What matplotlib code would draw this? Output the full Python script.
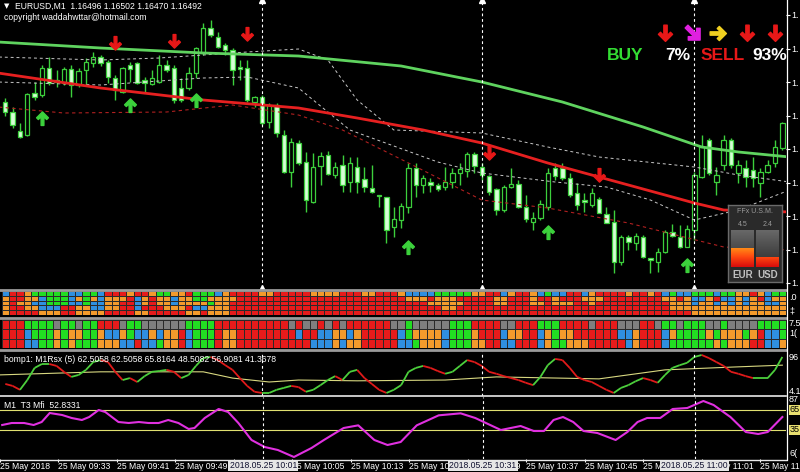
import numpy as np
import matplotlib
matplotlib.use("Agg")
import matplotlib.pyplot as plt
import matplotlib.transforms as mtransforms
from matplotlib.path import Path
from matplotlib.lines import Line2D
from matplotlib.collections import LineCollection
from matplotlib.colors import ListedColormap, LinearSegmentedColormap

plt.rcParams["font.family"] = ["Liberation Sans", "DejaVu Sans"]

W, H = 800, 472

# ---------------------------------------------------------------------------
# Data (prices in points above 1.16000, i.e. 598 -> 1.16598)
# ---------------------------------------------------------------------------
opens = [598, 588, 569, 565, 607, 605, 632, 620, 617, 631, 615, 630, 637, 643, 638, 622, 608, 635, 637, 620,
         616, 618, 635, 632, 612, 612, 627, 647, 672, 663, 655, 650, 633, 632, 598, 603, 578, 595, 565, 528,
         557, 538, 498, 534, 545, 525, 535, 518, 533, 521, 512, 505, 503, 473, 480, 493, 532, 515, 518, 515,
         513, 518, 527, 529, 546, 533, 524, 511, 490, 513, 516, 493, 478, 482, 493, 532, 532, 522, 507, 500,
         495, 501, 486, 478, 438, 463, 457, 463, 442, 438, 448, 468, 463, 453, 470, 523, 560, 518, 535, 560,
         527, 532, 530, 517, 528, 537, 552]
highs = [602, 593, 577, 607, 618, 635, 643, 630, 633, 635, 632, 642, 648, 645, 640, 625, 633, 638, 638, 623,
         630, 645, 640, 635, 622, 633, 653, 677, 680, 668, 657, 652, 640, 640, 604, 605, 597, 597, 570, 562,
         560, 548, 547, 548, 549, 538, 545, 543, 543, 533, 535, 505, 503, 493, 497, 537, 537, 525, 522, 517,
         533, 532, 537, 548, 548, 537, 525, 512, 515, 532, 520, 505, 488, 500, 532, 537, 537, 527, 517, 507,
         512, 503, 493, 490, 465, 465, 467, 465, 442, 452, 470, 476, 475, 475, 528, 565, 562, 533, 565, 562,
         540, 540, 543, 532, 540, 560, 578]
lows = [584, 572, 562, 564, 600, 603, 615, 613, 615, 603, 613, 615, 633, 634, 617, 600, 607, 618, 616, 608,
        615, 617, 628, 597, 598, 610, 622, 645, 663, 652, 645, 615, 620, 598, 593, 575, 572, 563, 527, 513,
        535, 488, 497, 515, 525, 522, 508, 508, 507, 508, 507, 493, 457, 463, 472, 487, 503, 507, 508, 509,
        510, 512, 515, 523, 527, 520, 505, 485, 488, 512, 492, 478, 470, 480, 490, 520, 520, 503, 490, 488,
        493, 487, 477, 427, 435, 450, 450, 442, 427, 428, 447, 463, 452, 453, 460, 522, 525, 505, 530, 532,
        517, 513, 513, 503, 527, 533, 550]
closes = [588, 575, 563, 606, 603, 632, 617, 618, 631, 615, 629, 638, 643, 637, 623, 610, 632, 631, 617, 617,
          622, 635, 630, 600, 600, 627, 652, 672, 665, 653, 650, 630, 631, 600, 603, 577, 595, 567, 528, 558,
          537, 500, 533, 544, 526, 533, 515, 537, 518, 513, 508, 504, 470, 481, 494, 532, 515, 522, 515, 511,
          518, 527, 531, 546, 534, 525, 508, 490, 513, 516, 493, 481, 482, 496, 527, 524, 522, 505, 495, 498,
          507, 487, 477, 438, 463, 458, 464, 443, 440, 448, 468, 464, 453, 471, 525, 553, 527, 525, 560, 535,
          535, 523, 522, 528, 535, 553, 577]

# moving averages / envelopes (bar index, price points)
ma_slow_bar = [-1, 13, 27, 40, 54, 65, 76, 87, 95, 100, 107]
ma_slow_val = [658, 652, 647, 644, 634, 618, 598, 573, 553, 548, 543]
ma_fast_bar = [-1, 13, 27, 40, 48, 57, 65, 74, 81, 94, 98, 107]
ma_fast_val = [627, 612, 600, 592, 582, 570, 557, 537, 523, 497, 490, 488]
band_up_bar = [-1, 13, 21, 33, 40, 44, 48, 53, 65, 74, 81, 94, 100, 107]
band_up_val = [643, 640, 642, 648, 651, 640, 600, 570, 567, 553, 543, 533, 525, 518]
band_mid_bar = [-1, 13, 27, 33, 40, 47, 59, 65, 75, 82, 88, 94, 100, 107]
band_mid_val = [618, 615, 622, 623, 612, 570, 538, 527, 518, 513, 500, 480, 490, 510]
band_lo_bar = [-1, 8, 22, 31, 40, 46, 55, 65, 74, 85, 98, 107]
band_lo_val = [593, 587, 588, 595, 585, 570, 537, 500, 492, 477, 453, 450]

sell_bars = [15, 23, 33, 66, 81]
sell_vals = [657, 659, 666, 547, 525]
buy_bars = [5, 17, 26, 55, 74, 93]
buy_vals = [582, 595, 600, 453, 468, 435]

price_ticks = [685, 651.5, 618, 584.5, 551, 517.5, 484, 450.5, 417]
marker_bars = [35, 65, 94]
marker_labels = ["2018.05.25 10:01", "2018.05.25 10:31", "2018.05.25 11:00"]

# heat map strips: r red, o orange, b blue, g green, a gray
heat_top = [
    "brrogggggb" "bggbrrrorr" "oggoorgggb" "orrrroorrr" "rroooorrro" "orrrobbbbg" "ggggoorrbo" "rrobgbbrrb" "orrrrorror" "bgbbgggbgg" "oorobgg",
    "orroobgggb" "ogobooorbo" "roobooggoo" "oorrrrrrrr" "rrrrrrrrrr" "rrrrroooro" "oorrrrroor" "rrorrorrro" "oorrrrrrrr" "oorobborbb" "oborboo",
    "oroobbgggb" "bgbboorrbo" "rooboooogo" "orrrrrrrrr" "rrrrrrrrrr" "rrrrrrrroo" "ooorrrroor" "rroorooorr" "orrrrrrrrr" "roooboobob" "oboobbo",
    "orroobbbrr" "oobboorrbr" "rrooorbboo" "orrrrrrrrr" "rrrrrrrrrr" "rrrrrrrrrr" "oorrrrrrrr" "rrrrrrrrrr" "rrrrrrrrrr" "rooooooooo" "ooooooo",
    "orrrrooorr" "oooorrrroo" "rrrrrooroo" "orrrrrrrrr" "rrrrrrrrrr" "rrrrrrrrrr" "rrrrrrrrrr" "rrrrrrrrrr" "rrrrrrrrrr" "rrrroooooo" "ooooooo",
]
heat_bottom = [
    "rrrggggagg" "aggrrragga" "aaaaaggggr" "rrrrrrrrra" "raarararrr" "rrraagaaaa" "agggrrrraa" "rrrgggrrrr" "arrraaarra" "ggagggaaga" "aaagggg",
    "rrrbgggogo" "oggobbogbb" "oboorbgggr" "oorrrrrrrr" "brrbboobor" "rrrrbgoooo" "bgggorrrbo" "orrbogoorr" "rrrrbborrr" "boggggogoo" "ogorbbg",
    "rrrbbggogo" "gggooobbrb" "bgoorbgggr" "oorrrrrrrr" "rrbbboboor" "rrrrbbgooo" "bgggoorrbb" "rrrboggooo" "rrrrrborrr" "bggggggogo" "oorrbbo",
]

rsx = [22, 17, 7, 32, 63, 73, 73, 68, 53, 40, 45, 58, 78, 83, 78, 53, 32, 37, 27, 42,
       53, 55, 58, 53, 37, 45, 68, 88, 91, 83, 70, 58, 37, 17, 2, -1, -1, 7, 12, 17,
       14, 2, 7, 19, 32, 42, 32, 53, 58, 37, 22, 7, -1, 7, 19, 53, 63, 68, 63, 55,
       48, 53, 68, 83, 78, 68, 53, 48, 42, 37, 32, 25, 19, 40, 70, 86, 83, 63, 40, 32,
       27, 17, 7, -1, 12, 19, 29, 37, 32, 25, 45, 63, 70, 76, 91, 96, 88, 78, 68, 53,
       48, 42, 37, 37, 37, 58, 91]
rsx_sig_bar = [-1, 13, 27, 31, 36, 40, 48, 60, 67, 81, 90, 99, 106]
rsx_sig_val = [45, 53, 53, 37, 27, 32, 30, 32, 40, 35, 58, 65, 70]

mfi_bar = [-0.7, 0.6, 2.3, 3.6, 4.7, 5.8, 7.5, 8.8, 10.2, 11.2, 12.5, 13.4, 15.2, 16.6, 18, 19.3, 20.7, 22,
           23.4, 24.8, 25.6, 27, 28.9, 30.2, 31.6, 33.4, 35.2, 37, 39.2, 41.6, 43.3, 46, 48, 50.2, 52, 53.8,
           56, 59, 62, 64, 67.5, 70.2, 72, 73.4, 74.7, 76, 77.4, 78.8, 80.7, 83.2, 84.8, 86.2, 87.5, 89.3,
           91, 93, 95.2, 96.6, 98.9, 101, 102.7, 104, 106]
mfi_val = [42.5, 45.5, 45.5, 42.5, 47, 60.5, 57.5, 53, 50, 54.5, 65, 62, 47, 45.5, 47, 45.5, 45.5, 50,
           45.5, 36.5, 38, 53, 66.5, 62, 45.5, 20, 9.5, 5, -5.5, 8, 20, 38, 42, 20, 12.5, 17,
           42, 57, 60, 53, 35, 41, 33.5, 33.5, 50, 54.5, 47, 33.5, 30.5, 20, 32, 47, 53, 53,
           66.5, 68, 78.5, 72.5, 54.5, 32, 29, 32, 54.5]

time_bars = [-1, 7, 15, 23, 31, 39, 47, 55, 63, 71, 79, 87, 95, 103]
time_labels = ["25 May 2018", "25 May 09:33", "25 May 09:41", "25 May 09:49", "25 May 09:57",
               "25 May 10:05", "25 May 10:13", "25 May 10:21", "25 May 10:29", "25 May 10:37",
               "25 May 10:45", "25 May 10:53", "25 May 11:01", "25 May 11:09"]

ffx_names = ["EUR", "USD"]
ffx_vals = [4.5, 2.4]

# ---------------------------------------------------------------------------
# Style
# ---------------------------------------------------------------------------
WICK = "#3ccf3c"
BODY = "#d6ffd6"
HEAT = {"r": "#e61b1b", "o": "#f39a2c", "b": "#2f8fe0", "g": "#22dd22", "a": "#7f7f7f"}
XMIN, XMAX = -0.723, 106.5
FS = 6.2


def panel(top, bottom, left=0, right=786):
    a = fig.add_axes([left / W, 1 - bottom / H, (right - left) / W, (bottom - top) / H])
    a.set_facecolor("black")
    for s in a.spines.values():
        s.set_visible(False)
    a.set_xlim(XMIN, XMAX)
    a.set_xticks([])
    a.set_yticks([])
    return a


def ftext(x, y, s, **kw):
    kw.setdefault("color", "white")
    kw.setdefault("fontsize", FS)
    kw.setdefault("va", "center")
    return fig.text(x / W, 1 - y / H, s, **kw)


def hline(y, x0, x1, color, lw):
    fig.add_artist(Line2D([x0 / W, x1 / W], [1 - y / H, 1 - y / H], color=color, lw=lw,
                          transform=fig.transFigure))


def arrow_path(angle):
    v = np.array([(-0.2, 1), (0.2, 1), (0.2, -0.25), (0.6, 0.15), (0.85, -0.1), (0, -0.95),
                  (-0.85, -0.1), (-0.6, 0.15), (-0.2, -0.25), (-0.2, 1)])
    t = np.deg2rad(angle)
    r = np.array([[np.cos(t), -np.sin(t)], [np.sin(t), np.cos(t)]])
    v = v @ r.T
    return Path(v, closed=True)


ARROW_DOWN = arrow_path(0)
ARROW_UP = arrow_path(180)
ARROW_RIGHT = arrow_path(90)
ARROW_DIAG = arrow_path(45)

fig = plt.figure(figsize=(W / 100, H / 100), dpi=100, facecolor="black")

# ---------------------------------------------------------------------------
# Main price panel
# ---------------------------------------------------------------------------
ax = panel(0, 288)
ax.set_ylim(412, 700)
idx = np.arange(len(opens))
o, hi, lo, c = (np.array(a, dtype=float) for a in (opens, highs, lows, closes))
bull = c >= o
ax.vlines(idx, lo, hi, color=WICK, lw=1, zorder=2)
ax.bar(idx[bull], (c - o)[bull], bottom=o[bull], width=0.6, facecolor="black",
       edgecolor=WICK, lw=0.9, zorder=3)
ax.bar(idx[~bull], (o - c)[~bull], bottom=c[~bull], width=0.6, facecolor=BODY,
       edgecolor=WICK, lw=0.9, zorder=3)

ax.plot(band_up_bar, band_up_val, color="#c8c8c8", lw=0.7, ls=(0, (3, 3)), zorder=4)
ax.plot(band_mid_bar, band_mid_val, color="#c8c8c8", lw=0.7, ls=(0, (3, 3)), zorder=4)
ax.plot(band_lo_bar, band_lo_val, color="#b02020", lw=0.8, ls=(0, (3, 3)), zorder=4)
ax.plot(ma_slow_bar, ma_slow_val, color="#5fd35f", lw=2.0, zorder=5)
ax.plot(ma_fast_bar, ma_fast_val, color="#e62020", lw=2.0, zorder=5)

ax.plot(sell_bars, sell_vals, ls="none", marker=ARROW_DOWN, ms=10, color="#e81818", zorder=6)
ax.plot(buy_bars, buy_vals, ls="none", marker=ARROW_UP, ms=10, color="#3cd23c", zorder=6)

ax.yaxis.tick_right()
ax.set_yticks(price_ticks)
ax.set_yticklabels(["1."] * len(price_ticks))
ax.tick_params(axis="y", colors="white", labelsize=6.5, length=3, pad=1, width=0.8)

for b in marker_bars:
    ax.axvline(b, color="white", lw=0.8, ls=(0, (2.5, 2.5)), zorder=7)
    ax.plot([b], [700], marker="^", ms=4, color="white", clip_on=False, zorder=8)
    ax.plot([b], [412], marker="^", ms=4, color="white", clip_on=False, zorder=8)

# signal board (top right)
for xp, mk, col in [(665, ARROW_DOWN, "#e81818"), (693, ARROW_DIAG, "#e020e0"),
                    (718, ARROW_RIGHT, "#f0d020"), (747, ARROW_DOWN, "#e81818"),
                    (775, ARROW_DOWN, "#e81818")]:
    fig.add_artist(Line2D([xp / W], [1 - 33 / H], marker=mk, ms=12, color=col,
                          transform=fig.transFigure))
ftext(625, 56, "BUY", color="#33dd33", fontsize=12.5, fontweight="bold", ha="center")
ftext(678, 56, "7%", color="white", fontsize=12.5, fontweight="bold", ha="center")
ftext(723, 56, "SELL", color="#e81818", fontsize=12.5, fontweight="bold", ha="center")
ftext(770, 56, "93%", color="white", fontsize=12.5, fontweight="bold", ha="center")

ftext(4, 6, "\u25bc", fontsize=5, family="DejaVu Sans")
ftext(15, 6, "EURUSD,M1  1.16496 1.16502 1.16470 1.16492")
ftext(4, 18, "copyright waddahwttar@hotmail.com")

# FFx strength box
axf = fig.add_axes([728 / W, 1 - 282 / H, 54 / W, 77 / H])
axf.set_facecolor("#2a2a2a")
for s in axf.spines.values():
    s.set_color("#6a6a6a")
    s.set_linewidth(1)
axf.set_xticks([])
axf.set_yticks([])
gray_cm = LinearSegmentedColormap.from_list("g", ["#2e2e2e", "#4a4a4a", "#686868"])
heat_cm = LinearSegmentedColormap.from_list("h", ["#d80c0c", "#ff4a10", "#ff9a18"])
grad = np.linspace(0, 1, 64).reshape(-1, 1)
for k, (name, val) in enumerate(zip(ffx_names, ffx_vals)):
    x0 = 3 + 25 * k
    axf.imshow(grad, extent=[x0, x0 + 23, 0, 9], origin="lower", aspect="auto", cmap=gray_cm)
    axf.imshow(np.linspace(0, val / 5, 64).reshape(-1, 1), extent=[x0, x0 + 23, 0, val],
               origin="lower", aspect="auto", cmap=heat_cm, vmin=0, vmax=1)
    axf.text(x0 + 11.5, 10.3, f"{val}", color="#9a9a9a", fontsize=5, ha="center", va="center")
    axf.text(x0 + 11.5, -1.9, name, color="#c0c0c0", fontsize=7, ha="center", va="center",
             fontweight="bold")
axf.text(27, 13.4, "FFx U.S.M.", color="#9a9a9a", fontsize=5, ha="center", va="center")
axf.set_xlim(0, 54)
axf.set_ylim(-3.65, 15.1)

# ---------------------------------------------------------------------------
# Heat strips
# ---------------------------------------------------------------------------
cmap = ListedColormap([HEAT[k] for k in "robga"])
code = {k: i for i, k in enumerate("robga")}
for rows, top, bottom in [(heat_top, 291, 315), (heat_bottom, 320, 348)]:
    axh = panel(top, bottom)
    grid = np.array([[code[ch] for ch in r] for r in rows])
    axh.pcolormesh(np.arange(grid.shape[1] + 1) - 0.5, np.arange(grid.shape[0] + 1), grid,
                   cmap=cmap, vmin=-0.5, vmax=4.5, edgecolors="#2a2a2a", linewidth=0.5)
    axh.set_ylim(grid.shape[0], 0)
    axh.set_xlim(XMIN, XMAX)

# ---------------------------------------------------------------------------
# RSX panel
# ---------------------------------------------------------------------------
axr = panel(351, 396)
axr.set_ylim(-8.8, 106.2)
r = np.array(rsx, dtype=float)
segs = [[(i, r[i]), (i + 1, r[i + 1])] for i in range(len(r) - 1)]
cols = ["#4ccf3c" if r[i + 1] >= r[i] else "#e01a1a" for i in range(len(r) - 1)]
axr.add_collection(LineCollection(segs, colors=cols, linewidths=1.3, zorder=3))
axr.plot(rsx_sig_bar, rsx_sig_val, color="#d8d880", lw=0.8, zorder=2)
for b in marker_bars:
    axr.axvline(b, color="white", lw=0.8, ls=(0, (2.5, 2.5)), zorder=4)
ftext(4, 359, "bomp1: M1Rsx (5) 62.5058 62.5058 65.8164 48.5082 56.9081 41.3678")

# ---------------------------------------------------------------------------
# MFI panel
# ---------------------------------------------------------------------------
axm = panel(397, 459)
axm.set_ylim(-8.5, 84.5)
axm.axhline(65, color="#e0e070", lw=0.8)
axm.axhline(35, color="#e0e070", lw=0.8)
axm.plot(mfi_bar, mfi_val, color="#e030e0", lw=1.5, zorder=3)
for b in marker_bars:
    axm.axvline(b, color="white", lw=0.8, ls=(0, (2.5, 2.5)), zorder=4)
ftext(4, 405, "M1  T3 Mfi  52.8331")

axm.set_xticks(time_bars)
axm.set_xticklabels(time_labels)
axm.tick_params(axis="x", colors="white", labelsize=FS, length=2, pad=0.2, width=0.8)
for t in axm.get_xticklabels():
    t.set_horizontalalignment("left")
tr = mtransforms.blended_transform_factory(axm.transData, axm.transAxes)
for b, s in zip(marker_bars, marker_labels):
    axm.text(b, -(465.5 - 459) / 62, s, transform=tr, ha="center", va="center", fontsize=FS,
             color="#101030", clip_on=False, zorder=10,
             bbox=dict(facecolor="#e6e6e6", edgecolor="none", pad=1.0))

# ---------------------------------------------------------------------------
# Frame lines and right-hand labels
# ---------------------------------------------------------------------------
hline(289.5, 0, 786, "#9a9a9a", 2.0)
hline(317.5, 0, 786, "#9a9a9a", 2.0)
hline(349.5, 0, 786, "#9a9a9a", 2.0)
hline(396.0, 0, 786, "#e8e8e8", 1.2)
hline(459.5, 0, 786, "#e8e8e8", 1.0)
fig.add_artist(Line2D([786.5 / W, 786.5 / W], [1 - 460 / H, 1], color="white", lw=0.9,
                      transform=fig.transFigure))

for y, s in [(297, ".0"), (311, "\u2021"), (323, "7.5"), (334, "1("), (358, "96"),
             (391, "4.1"), (399, "87"), (453, "6(")]:
    ftext(789, y, s, fontsize=6.5)
for y, s in [(410, "65"), (430, "35")]:
    ftext(790, y, s, fontsize=6.5, color="black",
          bbox=dict(facecolor="#e8e070", edgecolor="none", pad=0.6))

fig.savefig("out.png", dpi=100, facecolor="black")
